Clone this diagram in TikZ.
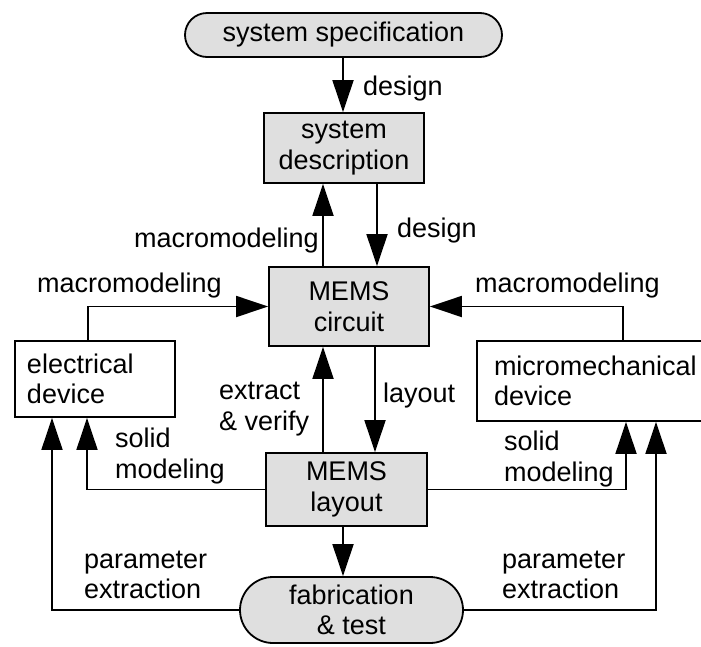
\documentclass[tikz,border=0pt]{standalone}
\usepackage{fontspec}
\setmainfont{Liberation Sans}
\usetikzlibrary{arrows.meta}
\begin{document}
\begin{tikzpicture}[x=1pt,y=-1pt,
  txt/.style={font=\fontsize{27}{30.5}\selectfont},
  lbl/.style={txt, inner sep=0pt, align=left},
  graybox/.style={draw, line width=1.8pt, fill=gray!25, txt, align=center, inner sep=0pt},
  whitebox/.style={draw, line width=1.8pt, fill=white, txt, align=left, inner ysep=0pt},
  arr/.style={line width=1.8pt, -{Triangle[length=32pt,width=21pt]}}]
\useasboundingbox (0,0) rectangle (701,646);
% nodes
\node[graybox, rounded corners=22pt, minimum width=317pt, minimum height=44pt] (spec) at (343.5,35) {system specification};
\node[graybox, minimum width=160pt, minimum height=70pt] (sysdesc) at (344,148) {system\\description};
\node[graybox, minimum width=160pt, minimum height=79pt] (circuit) at (349,306.5) {MEMS\\circuit};
\node[graybox, minimum width=161pt, minimum height=73pt] (layout) at (346.5,489.5) {MEMS\\layout};
\node[graybox, rounded corners=33pt, minimum width=223pt, minimum height=66pt] (fab) at (351.5,610) {fabrication\\\& test};
\node[whitebox, inner xsep=12pt, text width=136pt, minimum height=76pt] (elec) at (95,379) {electrical\\device};
\node[whitebox, inner xsep=17pt, text width=205pt, minimum height=80pt] (mech) at (596.5,381) {micromechanical\\device};
% helper x positions
\coordinate (xa) at (323,0);
\coordinate (xb) at (377,0);
\coordinate (xc) at (375,0);
\coordinate (xd) at (343,0);
\coordinate (xe) at (88,0);
\coordinate (xf) at (623,0);
\coordinate (xg) at (87,0);
\coordinate (xh) at (626,0);
\coordinate (xi) at (52,0);
\coordinate (xj) at (656,0);
% connectors
\draw[arr] (spec.south -| xd) -- (sysdesc.north -| xd);
\draw[arr] (circuit.north -| xa) -- (sysdesc.south -| xa);
\draw[arr] (sysdesc.south -| xb) -- (circuit.north -| xb);
\draw[arr] (elec.north -| xe) |- (circuit.west);
\draw[arr] (mech.north -| xf) |- (circuit.east);
\draw[arr] (layout.north -| xa) -- (circuit.south -| xa);
\draw[arr] (circuit.south -| xc) -- (layout.north -| xc);
\draw[arr] (layout.west) -| (elec.south -| xg);
\draw[arr] (layout.east) -| (mech.south -| xh);
\draw[arr] (layout.south -| xd) -- (fab.north -| xd);
\draw[arr] (fab.west) -| (elec.south -| xi);
\draw[arr] (fab.east) -| (mech.south -| xj);
% labels
\node[lbl, anchor=base west] (l1) at (363,95) {design};
\node[lbl, anchor=base west] (l2) at (134,247) {macromodeling};
\node[lbl, anchor=base west] (l3) at (397,237) {design};
\node[lbl, anchor=base west] (l4) at (37,292) {macromodeling};
\node[lbl, anchor=base west] (l5) at (475,292) {macromodeling};
\node[lbl, anchor=base west] (l6) at (383,402) {layout};
\node[lbl, anchor=west] (l7) at (219,409) {extract\\\& verify};
\node[lbl, anchor=west] (l8) at (115,456) {solid\\modeling};
\node[lbl, anchor=west] (l9) at (504,459) {solid\\modeling};
\node[lbl, anchor=west] (l10) at (84,575) {parameter\\extraction};
\node[lbl, anchor=west] (l11) at (502,575) {parameter\\extraction};
\end{tikzpicture}
\end{document}
